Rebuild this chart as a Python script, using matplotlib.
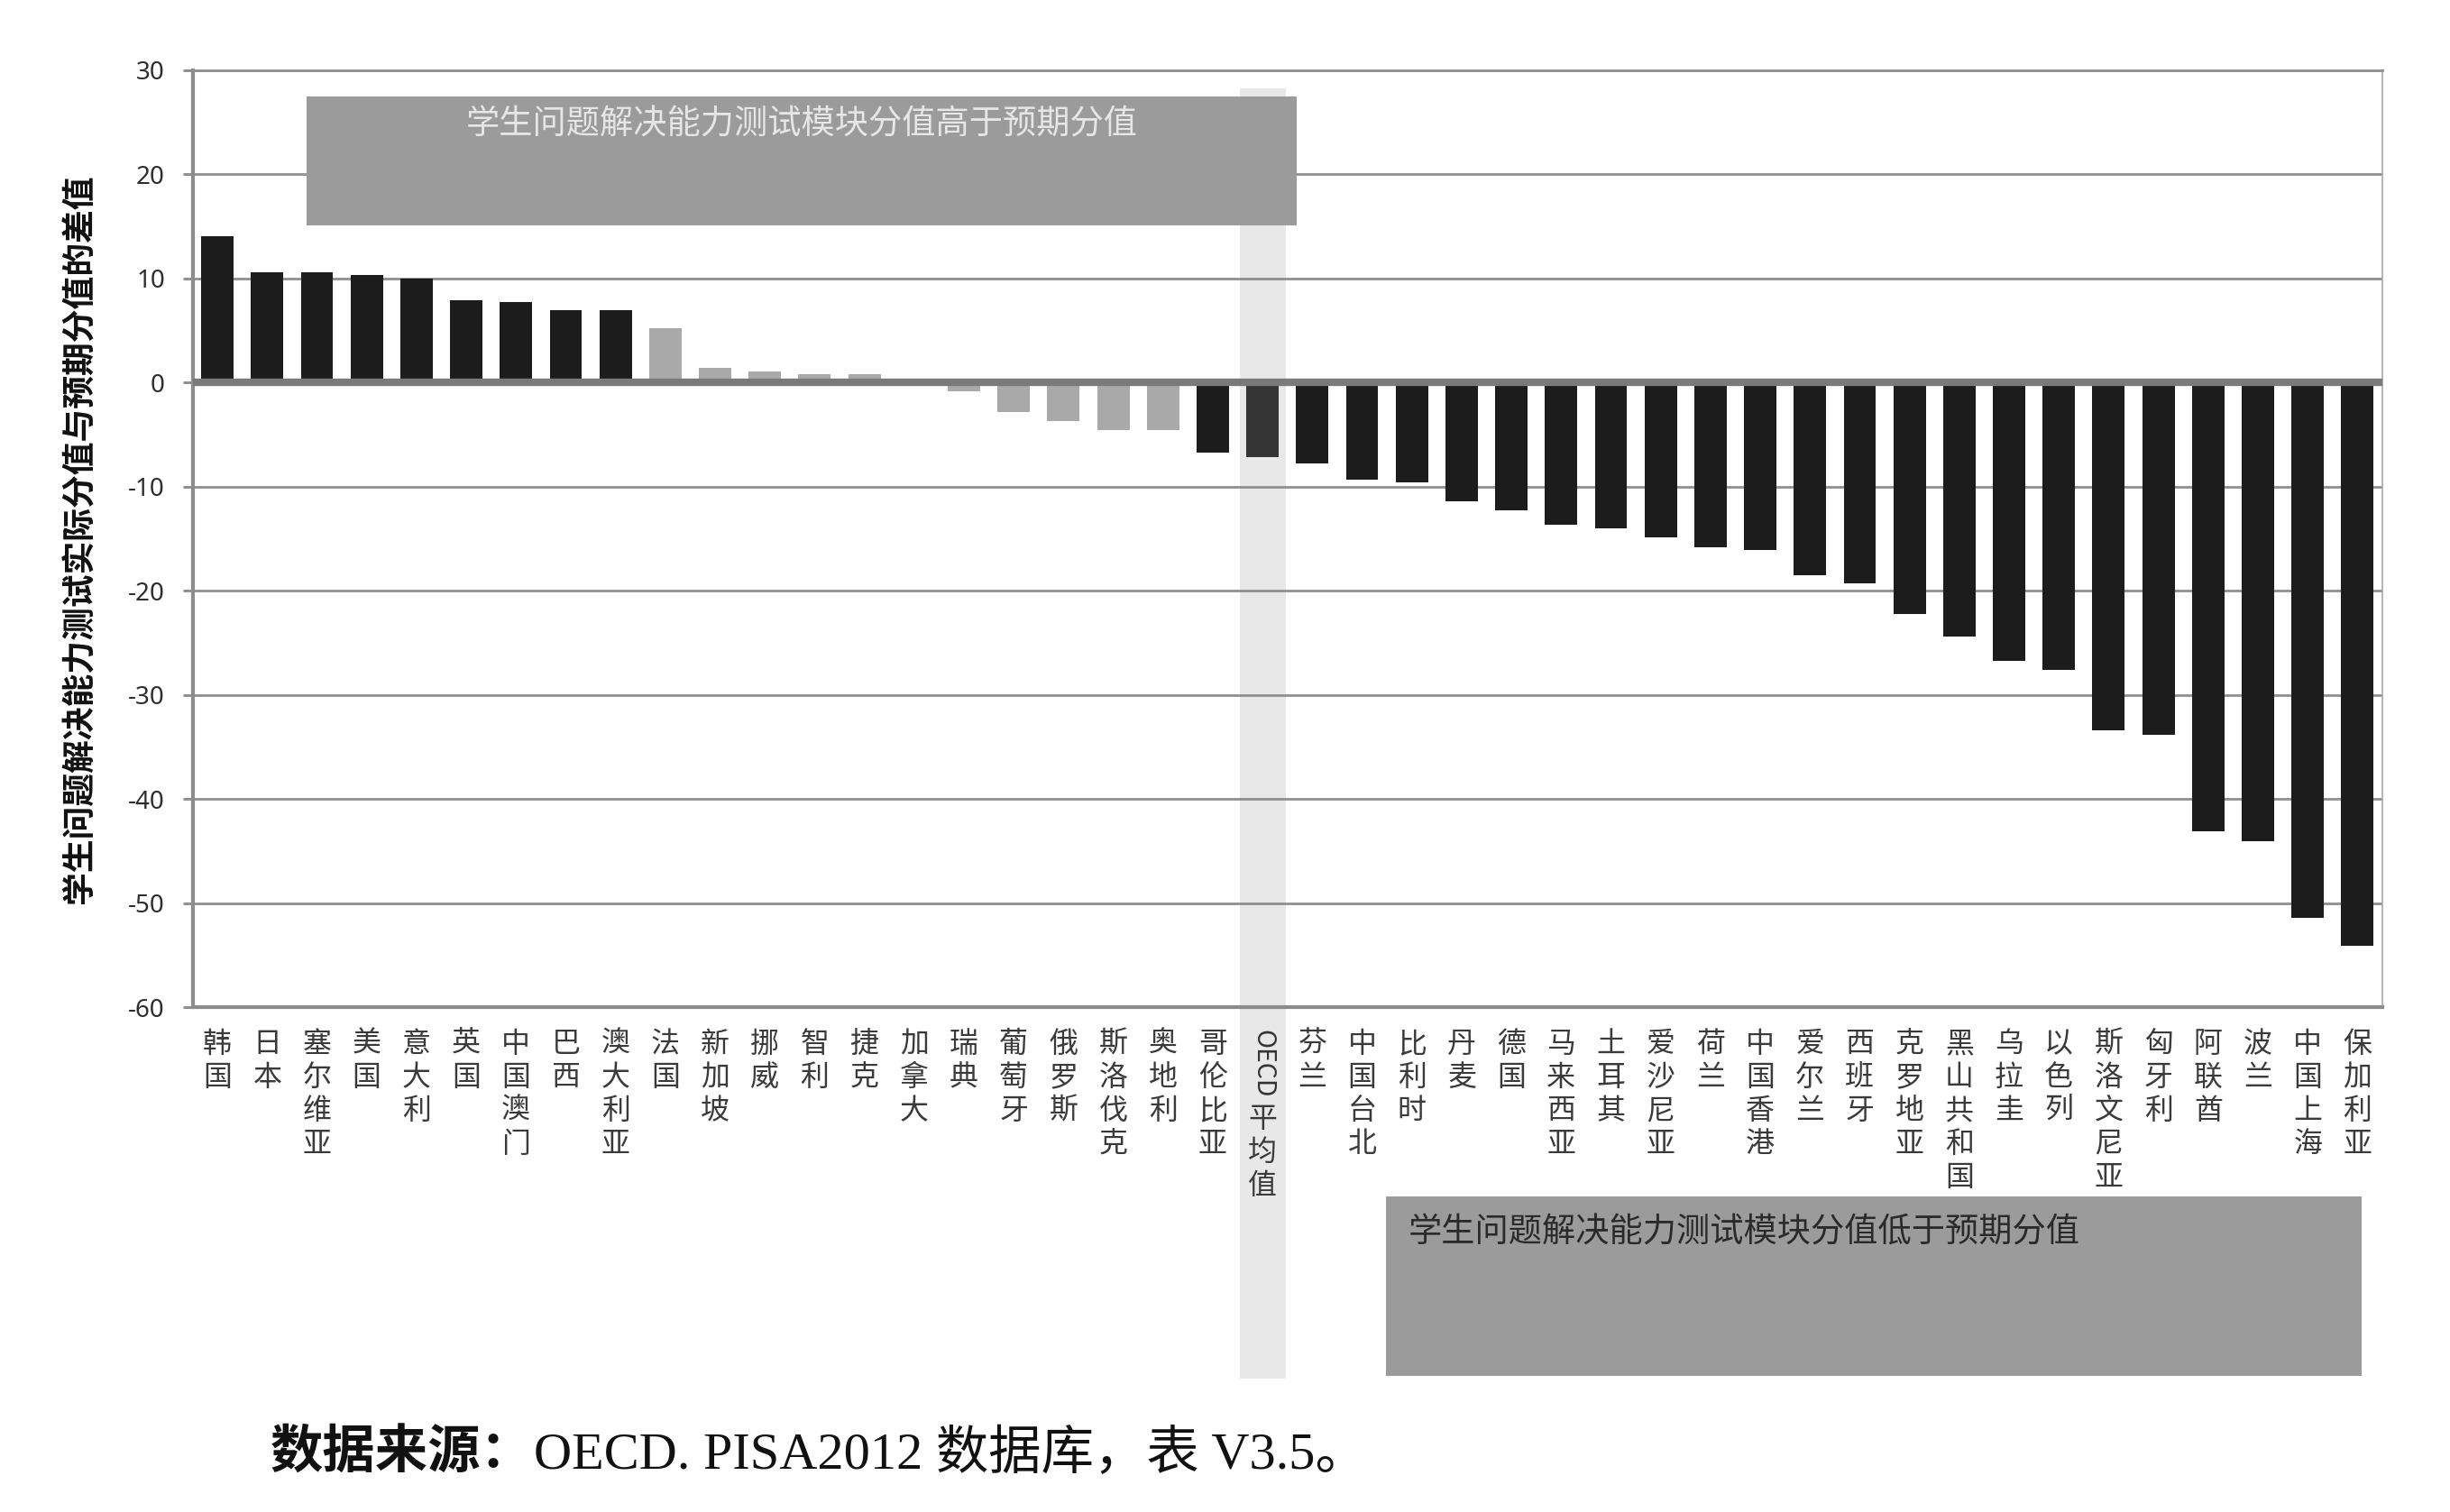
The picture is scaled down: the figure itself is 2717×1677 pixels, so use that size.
import matplotlib
matplotlib.use("Agg")
import matplotlib.pyplot as plt
from matplotlib.patches import Rectangle
from matplotlib.transforms import blended_transform_factory

plt.rcParams["font.family"] = ["Noto Sans CJK SC", "DejaVu Sans"]

# PISA 2012: actual minus expected problem-solving score
countries = [
    "韩国", "日本", "塞尔维亚", "美国", "意大利", "英国", "中国澳门", "巴西", "澳大利亚",
    "法国", "新加坡", "挪威", "智利", "捷克", "加拿大", "瑞典", "葡萄牙", "俄罗斯",
    "斯洛伐克", "奥地利", "哥伦比亚", "OECD平均值", "芬兰", "中国台北", "比利时", "丹麦",
    "德国", "马来西亚", "土耳其", "爱沙尼亚", "荷兰", "中国香港", "爱尔兰", "西班牙",
    "克罗地亚", "黑山共和国", "乌拉圭", "以色列", "斯洛文尼亚", "匈牙利", "阿联酋",
    "波兰", "中国上海", "保加利亚",
]
values = [
    14.1, 10.6, 10.6, 10.3, 10.0, 7.9, 7.7, 7.0, 7.0,
    5.2, 1.4, 1.1, 0.8, 0.8, -0.2, -0.8, -2.8, -3.7,
    -4.6, -4.6, -6.7, -7.2, -7.8, -9.3, -9.6, -11.4,
    -12.3, -13.7, -14.0, -14.9, -15.8, -16.1, -18.5, -19.3,
    -22.2, -24.4, -26.7, -27.6, -33.4, -33.8, -43.1,
    -44.1, -51.4, -54.1,
]
# significant difference from expected (black) vs not significant (grey)
significant = [True] * 9 + [False] * 11 + [True] * 24
OECD = "OECD平均值"
yticks = list(range(-60, 31, 10))

ylabel = "学生问题解决能力测试实际分值与预期分值的差值"
note_high = "学生问题解决能力测试模块分值高于预期分值"
note_low = "学生问题解决能力测试模块分值低于预期分值"
source_head = "数据来源："
source_tail = "OECD. PISA2012 数据库，表 V3.5。"

W, H = 2717, 1677
fig = plt.figure(figsize=(W / 100, H / 100), dpi=100)
ax = fig.add_axes([213.5 / W, 1 - 1117 / H, 2428.5 / W, 1039 / H])

oecd_i = countries.index(OECD)
colors = []
for i, sig in enumerate(significant):
    if i == oecd_i:
        colors.append("#353535")
    elif sig:
        colors.append("#1c1c1c")
    else:
        colors.append("#a9a9a9")

x = list(range(len(countries)))
ax.bar(x, values, width=0.65, color=colors, zorder=2)
ax.axhline(0, color="#7a7a7a", lw=6, zorder=3)

ax.set_xlim(-0.5, len(countries) - 0.5)
ax.set_ylim(-60, 30)
ax.set_yticks(yticks)
ax.set_yticklabels([str(v) for v in yticks], family=["Noto Sans", "DejaVu Sans"],
                   fontsize=20, color="#2e2e2e")
ax.tick_params(axis="y", length=8, width=2, color="#8a8a8a", pad=14)
ax.yaxis.grid(True, color="#8f8f8f", lw=2)
ax.set_axisbelow(True)

# vertical (one character per line) category labels
labels = ["" if c == OECD else "\n".join(c) for c in countries]
ax.set_xticks(x)
ax.set_xticklabels(labels, fontsize=23, color="#3a3a3a", linespacing=1.2)
ax.tick_params(axis="x", length=0, pad=18)

# OECD label: latin part rotated, Chinese part stacked below it
trans_x = blended_transform_factory(ax.transData, ax.transAxes)
ax.text(oecd_i, -0.024, OECD[:4], transform=trans_x, rotation=-90, ha="center", va="top",
        fontsize=20.5, color="#333333")
ax.text(oecd_i, -0.104, "\n".join(OECD[4:]), transform=trans_x, ha="center", va="top",
        fontsize=23, color="#3a3a3a", linespacing=1.2)

for side in ["left", "bottom"]:
    ax.spines[side].set_color("#8c8c8c")
    ax.spines[side].set_linewidth(3)
ax.spines["right"].set_color("#a8a8a8")
ax.spines["right"].set_linewidth(1.2)
ax.spines["top"].set_color("#8f8f8f")
ax.spines["top"].set_linewidth(2)

ax.set_ylabel(ylabel, fontsize=26.5, fontweight="bold", color="#111111", va="center")
ax.yaxis.set_label_coords(-0.0513, 0.5)

# OECD average highlight band, running down past the labels
trans_band = blended_transform_factory(ax.transData, fig.transFigure)
ax.add_patch(Rectangle((oecd_i - 0.46, 1 - 1529 / H), 0.92, (1529 - 97.7) / H,
                       transform=trans_band, facecolor="#e8e8e8", edgecolor="none",
                       zorder=0.2, clip_on=False))

# upper note box
ax.add_patch(Rectangle((1.79, 15.1), 19.89, 12.4, facecolor="#9b9b9b", edgecolor="none",
                       zorder=4, clip_on=False))
ax.text(1.79 + 19.89 / 2, 24.8, note_high, ha="center", va="center", fontsize=26.8,
        color="#e6e6e6", zorder=5)

# lower note box (outside the axes)
fig.patches.append(Rectangle((1537 / W, 1 - 1526 / H), 1082 / W, 199 / H,
                             transform=fig.transFigure, facecolor="#9b9b9b",
                             edgecolor="none", zorder=2))
fig.text(1562 / W, 1 - 1367 / H, note_low, ha="left", va="center", fontsize=26.8,
         color="#2a2a2a", zorder=3)

src_family = ["Liberation Serif", "Noto Sans CJK SC"]
t1 = fig.text(300 / W, 1 - 1613 / H, source_head, ha="left", va="center", fontsize=42,
              fontweight="bold", family=src_family, color="#111111")
ax.annotate(source_tail, xy=(1, 0.5), xycoords=t1, ha="left", va="center", fontsize=42,
            family=src_family, color="#111111", annotation_clip=False)

fig.savefig("out.png", dpi=100, facecolor="white")
